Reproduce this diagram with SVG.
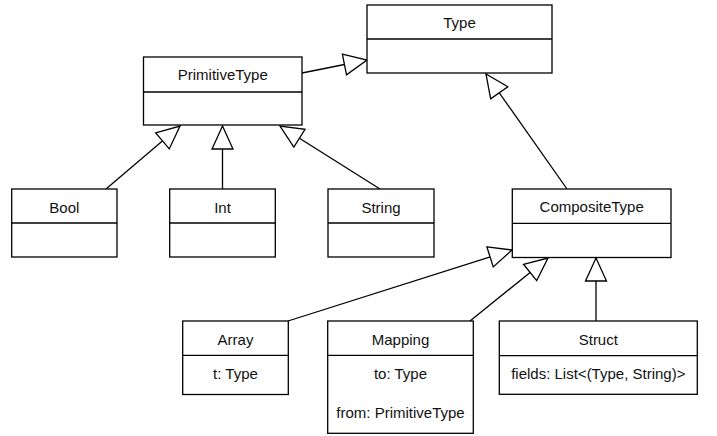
<svg xmlns="http://www.w3.org/2000/svg" width="717" height="436" viewBox="0 0 717 436">
<style>
.box{fill:#fff;stroke:#000;stroke-width:1.3}
.div{stroke:#000;stroke-width:1.3}
.t{font-family:"Liberation Sans",Arial,sans-serif;font-size:15px;fill:#111;text-anchor:middle}
.edge{fill:none;stroke:#000;stroke-width:1.3}
</style>
<defs>
<marker id="gen" markerUnits="userSpaceOnUse" markerWidth="30" markerHeight="30" refX="24" refY="12" orient="auto" overflow="visible">
<path d="M1,1.5 L24,12 L1,22.5 Z" fill="#fff" stroke="#000" stroke-width="1.3"/>
</marker>
</defs>
<rect width="717" height="436" fill="#fff"/>
<g id="connectors">
<line class="edge" x1="302" y1="73" x2="367" y2="60" marker-end="url(#gen)"/>
<line class="edge" x1="106" y1="189" x2="180" y2="126" marker-end="url(#gen)"/>
<line class="edge" x1="222.5" y1="189" x2="222.5" y2="126" marker-end="url(#gen)"/>
<line class="edge" x1="380" y1="189" x2="280" y2="126" marker-end="url(#gen)"/>
<line class="edge" x1="567" y1="189" x2="486" y2="74" marker-end="url(#gen)"/>
<line class="edge" x1="288" y1="321" x2="512" y2="250" marker-end="url(#gen)"/>
<line class="edge" x1="470" y1="321" x2="548" y2="258" marker-end="url(#gen)"/>
<line class="edge" x1="596" y1="321" x2="596" y2="258" marker-end="url(#gen)"/>
</g>
<g id="Type">
<rect class="box" x="367" y="5" width="185" height="68"/>
<line class="div" x1="367" y1="39" x2="552" y2="39"/>
<text class="t" x="459.5" y="28">Type</text>
</g>
<g id="PrimitiveType">
<rect class="box" x="143.5" y="57" width="158.5" height="68"/>
<line class="div" x1="143.5" y1="92" x2="302" y2="92"/>
<text class="t" x="222.75" y="80">PrimitiveType</text>
</g>
<g id="Bool">
<rect class="box" x="11.7" y="189" width="105.3" height="68"/>
<line class="div" x1="11.7" y1="223" x2="117" y2="223"/>
<text class="t" x="64.3" y="212.5">Bool</text>
</g>
<g id="Int">
<rect class="box" x="169.7" y="189" width="105.6" height="68"/>
<line class="div" x1="169.7" y1="223" x2="275.3" y2="223"/>
<text class="t" x="222.5" y="212.5">Int</text>
</g>
<g id="String">
<rect class="box" x="328" y="189" width="106" height="68"/>
<line class="div" x1="328" y1="223" x2="434" y2="223"/>
<text class="t" x="381" y="212.5">String</text>
</g>
<g id="CompositeType">
<rect class="box" x="512.3" y="189" width="158.7" height="68.5"/>
<line class="div" x1="512.3" y1="223.3" x2="671" y2="223.3"/>
<text class="t" x="591.7" y="212">CompositeType</text>
</g>
<g id="Array">
<rect class="box" x="182.7" y="321" width="105.6" height="73.5"/>
<line class="div" x1="182.7" y1="355.3" x2="288.3" y2="355.3"/>
<text class="t" x="235.5" y="344.5">Array</text>
<text class="t" x="235.5" y="378.5">t: Type</text>
</g>
<g id="Mapping">
<rect class="box" x="327.7" y="321" width="145.6" height="112.3"/>
<line class="div" x1="327.7" y1="355.3" x2="473.3" y2="355.3"/>
<text class="t" x="400.5" y="344.5">Mapping</text>
<text class="t" x="400.5" y="378.5">to: Type</text>
<text class="t" x="400.5" y="417.5">from: PrimitiveType</text>
</g>
<g id="Struct">
<rect class="box" x="499.3" y="321" width="198" height="73.3"/>
<line class="div" x1="499.3" y1="355.7" x2="697.3" y2="355.7"/>
<text class="t" x="598.3" y="344.5">Struct</text>
<text class="t" x="598.3" y="379">fields: List&lt;(Type, String)&gt;</text>
</g>
</svg>
